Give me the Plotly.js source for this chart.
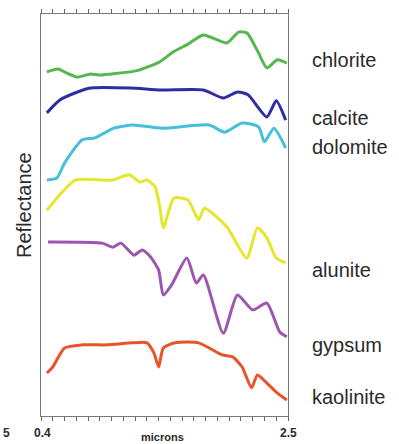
<!DOCTYPE html>
<html>
<head>
<meta charset="utf-8">
<script src="https://cdn.plot.ly/plotly-3.0.1.min.js"></script>
<style>html,body{margin:0;padding:0;background:#fff;}#chart{width:399px;height:444px;}</style>
</head>
<body>
<div id="chart"></div>
<script>
// Offset reflectance spectra (arbitrary stacked units), wavelength in microns
const minerals = ["chlorite", "calcite", "dolomite", "alunite", "gypsum", "kaolinite"];

const chloriteX = [0.45, 0.545, 0.62, 0.71, 0.82, 0.90, 1.00, 1.16, 1.24, 1.41, 1.52, 1.65, 1.78, 1.98, 2.08, 2.15, 2.25, 2.32, 2.41, 2.49];
const chloriteY = [85.6, 86.3, 85.3, 84.3, 85.1, 84.8, 85.1, 85.6, 86.1, 88.1, 90.5, 92.5, 94.8, 92.8, 95.5, 95.3, 90.3, 86.6, 88.6, 87.8];

const calciteX = [0.45, 0.56, 0.71, 0.82, 1.16, 1.42, 1.78, 1.95, 2.07, 2.16, 2.32, 2.40, 2.48];
const calciteY = [75.4, 78.6, 80.6, 81.6, 81.6, 81.1, 81.1, 79.1, 80.6, 79.9, 74.4, 78.4, 73.6];

const dolomiteX = [0.45, 0.535, 0.60, 0.75, 0.86, 1.02, 1.18, 1.43, 1.83, 1.96, 2.11, 2.25, 2.30, 2.38, 2.48];
const dolomiteY = [58.7, 59.2, 62.9, 68.7, 69.2, 71.6, 72.4, 71.6, 72.4, 70.6, 72.9, 71.9, 68.2, 71.6, 66.7];

const aluniteX = [0.45, 0.58, 0.69, 1.01, 1.15, 1.24, 1.30, 1.37, 1.41, 1.44, 1.53, 1.65, 1.74, 1.79, 1.98, 2.15, 2.24, 2.32, 2.40, 2.48];
const aluniteY = [51.2, 55.7, 58.7, 58.7, 60.0, 58.2, 58.7, 57.0, 52.0, 46.8, 54.2, 53.7, 48.8, 51.7, 47.0, 39.3, 46.8, 44.3, 39.3, 38.1];

const gypsumX = [0.46, 0.92, 1.01, 1.08, 1.19, 1.26, 1.33, 1.40, 1.44, 1.51, 1.64, 1.72, 1.78, 1.95, 2.07, 2.20, 2.32, 2.43, 2.49];
const gypsumY = [43.3, 43.0, 42.0, 43.0, 40.0, 41.3, 39.6, 36.3, 30.1, 32.6, 39.3, 33.1, 35.1, 20.6, 30.1, 26.4, 28.1, 20.9, 19.7];

const kaoliniteX = [0.45, 0.50, 0.60, 0.75, 0.96, 1.18, 1.30, 1.36, 1.40, 1.44, 1.54, 1.74, 1.94, 2.03, 2.11, 2.19, 2.24, 2.32, 2.41, 2.49];
const kaoliniteY = [10.7, 12.2, 16.9, 17.7, 17.7, 18.2, 18.2, 15.7, 12.2, 16.9, 18.2, 18.2, 15.2, 14.7, 12.2, 7.0, 10.2, 8.2, 5.7, 4.0];

const xTickLabels = ["0.4", "2.5"];
const edgeLabel = "5";
const xTitle = "microns";
const yTitle = "Reflectance";

const seriesX = [chloriteX, calciteX, dolomiteX, aluniteX, gypsumX, kaoliniteX];
const seriesY = [chloriteY, calciteY, dolomiteY, aluniteY, gypsumY, kaoliniteY];
const colors = ["#55b84f", "#2d2f9e", "#45bfdc", "#e6e62a", "#9c55b0", "#e9532b"];
const labelY = [88.6, 74.1, 66.9, 36.3, 17.7, 4.7];
const FONT = "Liberation Sans, Arial, sans-serif";

const traces = minerals.map((m, i) => ({
  x: seriesX[i], y: seriesY[i], name: m, type: "scatter", mode: "lines",
  line: {color: colors[i], width: 3, shape: "spline", smoothing: 0.6},
  hoverinfo: "skip"
}));

const annotations = minerals.map((m, i) => ({
  text: m, xref: "paper", yref: "y", x: 1, y: labelY[i], xanchor: "left", yanchor: "middle",
  xshift: 22, showarrow: false, font: {family: FONT, size: 20, color: "#2a2a2a"}
}));
annotations.push({text: yTitle, xref: "paper", yref: "paper", x: 0, y: 0.525, xanchor: "center", yanchor: "middle",
  xshift: -17, textangle: -90, showarrow: false, font: {family: FONT, size: 20, color: "#2a2a2a"}});
annotations.push({text: "<b>" + xTickLabels[0] + "</b>", xref: "x", yref: "paper", x: 0.4, y: 0, yanchor: "top", xanchor: "center",
  xshift: 1, yshift: -8, showarrow: false, font: {family: FONT, size: 12, color: "#2a2a2a"}});
annotations.push({text: "<b>" + xTickLabels[1] + "</b>", xref: "x", yref: "paper", x: 2.5, y: 0, yanchor: "top", xanchor: "center",
  yshift: -8, showarrow: false, font: {family: FONT, size: 12, color: "#2a2a2a"}});
annotations.push({text: "<b>" + xTitle + "</b>", xref: "paper", yref: "paper", x: 0.5, y: 0, yanchor: "top", xanchor: "center",
  xshift: -2, yshift: -13, showarrow: false, font: {family: FONT, size: 11, color: "#2a2a2a"}});
annotations.push({text: "<b>" + edgeLabel + "</b>", xref: "paper", yref: "paper", x: 0, y: 0, yanchor: "top", xanchor: "left",
  xshift: -40, yshift: -8, showarrow: false, font: {family: FONT, size: 12, color: "#2a2a2a"}});

const layout = {
  width: 399, height: 444,
  margin: {l: 41, r: 111, t: 14, b: 28},
  paper_bgcolor: "#fff", plot_bgcolor: "#fff",
  showlegend: false,
  xaxis: {range: [0.4, 2.5], showline: true, linecolor: "#7a7a7a", linewidth: 1, mirror: "ticks",
    ticks: "outside", tick0: 0.4, dtick: 0.1, ticklen: 4, tickcolor: "#666", tickwidth: 1,
    showticklabels: false, showgrid: false, zeroline: false},
  yaxis: {range: [0, 100], showline: true, linecolor: "#7a7a7a", linewidth: 1, mirror: true,
    ticks: "", showticklabels: false, showgrid: false, zeroline: false},
  annotations: annotations
};

Plotly.newPlot("chart", traces, layout, {staticPlot: true, displayModeBar: false});
</script>
</body>
</html>
